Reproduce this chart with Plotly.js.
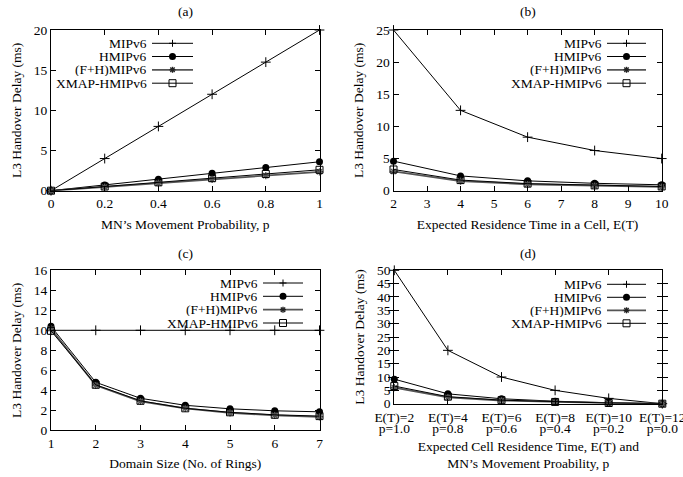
<!DOCTYPE html>
<html>
<head>
<meta charset="utf-8">
<script src="https://cdn.plot.ly/plotly-3.0.1.min.js"></script>
<style>html,body{margin:0;padding:0;background:#fff;}#chart{width:683px;height:477px;}</style>
</head>
<body>
<div id="chart"></div>
<script>
// ---------- DATA ----------
const seriesNames = ['MIPv6', 'HMIPv6', '(F+H)MIPv6', 'XMAP-HMIPv6'];

// (a) MN's movement probability
const aX = [0, 0.2, 0.4, 0.6, 0.8, 1];
const aMIP = [0, 4, 8, 12, 16, 20];
const aHMIP = [0, 0.72, 1.44, 2.16, 2.88, 3.6];
const aFH = [0, 0.47, 0.94, 1.41, 1.88, 2.35];
const aXMAP = [0, 0.52, 1.04, 1.56, 2.08, 2.6];

// (b) Expected residence time
const bX = [2, 4, 6, 8, 10];
const bMIP = [25, 12.5, 8.33, 6.25, 5];
const bHMIP = [4.6, 2.3, 1.53, 1.15, 0.92];
const bFH = [3.0, 1.5, 1.0, 0.75, 0.6];
const bXMAP = [3.3, 1.65, 1.1, 0.83, 0.66];

// (c) Domain size
const cX = [1, 2, 3, 4, 5, 6, 7];
const cMIP = [10, 10, 10, 10, 10, 10, 10];
const cHMIP = [10.4, 4.8, 3.2, 2.5, 2.15, 1.95, 1.85];
const cFH = [10.15, 4.5, 2.9, 2.2, 1.75, 1.5, 1.35];
const cXMAP = [9.95, 4.55, 2.95, 2.2, 1.8, 1.55, 1.42];

// (d) E(T) and p
const dET = ['E(T)=2', 'E(T)=4', 'E(T)=6', 'E(T)=8', 'E(T)=10', 'E(T)=12'];
const dP = ['p=1.0', 'p=0.8', 'p=0.6', 'p=0.4', 'p=0.2', 'p=0.0'];
const dMIP = [50, 20, 10, 5, 2, 0];
const dHMIP = [9.2, 3.7, 1.85, 0.92, 0.37, 0];
const dFH = [6.0, 2.4, 1.2, 0.6, 0.24, 0];
const dXMAP = [6.6, 2.64, 1.32, 0.66, 0.26, 0];

// ---------- STYLES ----------
const FONT = 'Liberation Serif';
const FS = 13.5;
const W = 683, H = 477;
const styles = [
  {line: {color: '#000', width: 1}, marker: {symbol: 'cross-thin-open', size: 7, line: {color: '#000', width: 1}}},
  {line: {color: '#000', width: 1}, marker: {symbol: 'circle', size: 7, color: '#000'}},
  {line: {color: '#555', width: 1.8}, marker: {symbol: 'asterisk-open', size: 6, line: {color: '#222', width: 1.4}}},
  {line: {color: '#000', width: 1}, marker: {symbol: 'square-open', size: 7, color: '#000', line: {color: '#000', width: 1}}}
];

const panels = [
  {xa: 'x', ya: 'y', x: aX, ys: [aMIP, aHMIP, aFH, aXMAP]},
  {xa: 'x2', ya: 'y2', x: bX, ys: [bMIP, bHMIP, bFH, bXMAP]},
  {xa: 'x3', ya: 'y3', x: cX, ys: [cMIP, cHMIP, cFH, cXMAP]},
  {xa: 'x4', ya: 'y4', x: dET, ys: [dMIP, dHMIP, dFH, dXMAP]}
];

const traces = [];
panels.forEach(p => {
  p.ys.forEach((y, i) => {
    traces.push({
      type: 'scatter', mode: 'lines+markers', x: p.x, y: y, name: seriesNames[i],
      xaxis: p.xa, yaxis: p.ya, line: styles[i].line, marker: styles[i].marker,
      showlegend: false, cliponaxis: false
    });
  });
});
// carrier for the second row of (d) tick labels (p values)
traces.push({type: 'scatter', mode: 'none', x: dP, y: dMIP, xaxis: 'x5', yaxis: 'y4', showlegend: false, hoverinfo: 'skip'});

function axisBase() {
  return {
    showline: true, linecolor: '#000', linewidth: 1, mirror: 'allticks',
    ticks: 'inside', ticklen: 5, tickcolor: '#000', tickwidth: 1,
    showgrid: false, zeroline: false, tickfont: {family: FONT, size: FS, color: '#000'},
    fixedrange: true
  };
}
const px = v => v / W;
const py = v => 1 - v / H;
const tfont = {family: FONT, size: FS, color: '#000'};

const layout = {
  width: W, height: H, margin: {l: 0, r: 0, t: 0, b: 0},
  paper_bgcolor: '#fff', plot_bgcolor: '#fff', showlegend: false,
  font: {family: FONT, size: FS, color: '#000'},
  xaxis: Object.assign(axisBase(), {domain: [px(51), px(319.5)], anchor: 'y', range: [0, 1], dtick: 0.2,
    title: {text: 'MN\u2019s Movement Probability, p', font: tfont, standoff: 9}}),
  yaxis: Object.assign(axisBase(), {domain: [py(190.7), py(30)], anchor: 'x', range: [0, 20], dtick: 5,
    title: {text: 'L3 Handover Delay (ms)', font: tfont, standoff: 9}}),
  xaxis2: Object.assign(axisBase(), {domain: [px(393.5), px(661.7)], anchor: 'y2', range: [2, 10], dtick: 1,
    title: {text: 'Expected Residence Time in a Cell, E(T)', font: tfont, standoff: 9}}),
  yaxis2: Object.assign(axisBase(), {domain: [py(190.7), py(30)], anchor: 'x2', range: [0, 25], dtick: 5,
    title: {text: 'L3 Handover Delay (ms)', font: tfont, standoff: 9}}),
  xaxis3: Object.assign(axisBase(), {domain: [px(51), px(319.5)], anchor: 'y3', range: [1, 7], dtick: 1,
    title: {text: 'Domain Size (No. of Rings)', font: tfont, standoff: 9}}),
  yaxis3: Object.assign(axisBase(), {domain: [py(430.3), py(270.3)], anchor: 'x3', range: [0, 16], dtick: 2,
    title: {text: 'L3 Handover Delay (ms)', font: tfont, standoff: 9}}),
  xaxis4: Object.assign(axisBase(), {domain: [px(394.3), px(662.3)], anchor: 'y4', type: 'category', range: [0, 5],
    ticklabelstandoff: 1,
    title: {text: 'Expected Cell Residence Time, E(T) and<br>MN\u2019s Movement Proability, p', font: tfont, standoff: 17}}),
  xaxis5: {domain: [px(394.3), px(662.3)], anchor: 'y4', overlaying: 'x4', side: 'bottom', type: 'category',
    range: [0, 5], showline: false, ticks: '', showgrid: false,
    zeroline: false, ticklabelstandoff: 15, tickfont: {family: FONT, size: FS, color: '#000'}, fixedrange: true},
  yaxis4: Object.assign(axisBase(), {domain: [py(403.7), py(270.3)], anchor: 'x4', range: [0, 50], dtick: 5,
    title: {text: 'L3 Handover Delay (ms)', font: tfont, standoff: 9}}),
  annotations: [],
  shapes: []
};

// panel titles
[['(a)', 185, 12], ['(b)', 528, 12], ['(c)', 185, 253], ['(d)', 528, 253]].forEach(t => {
  layout.annotations.push({text: t[0], xref: 'paper', yref: 'paper', x: px(t[1]), y: py(t[2]),
    xanchor: 'center', yanchor: 'middle', showarrow: false, font: tfont});
});

// gnuplot-style keys: text right-aligned, sample line to the right
const keys = [
  {textRight: 148, s0: 152, s1: 193, rows: [43.3, 56.5, 69.8, 83.2]},
  {textRight: 603, s0: 607, s1: 646, rows: [43.3, 56.5, 69.8, 83.2]},
  {textRight: 259, s0: 263, s1: 303, rows: [283, 296.3, 309.7, 323]},
  {textRight: 603, s0: 607, s1: 646, rows: [284.3, 297.3, 310.3, 323.3]}
];
function L(x0, y0, x1, y1, color, width) {
  layout.shapes.push({type: 'line', xref: 'paper', yref: 'paper', x0: px(x0), y0: py(y0), x1: px(x1), y1: py(y1),
    line: {color: color, width: width}});
}
keys.forEach(k => {
  k.rows.forEach((y, i) => {
    layout.annotations.push({text: seriesNames[i], xref: 'paper', yref: 'paper', x: px(k.textRight), y: py(y),
      xanchor: 'right', yanchor: 'middle', showarrow: false, font: tfont, height: 13, borderpad: 0, valign: 'middle'});
    L(k.s0, y, k.s1, y, styles[i].line.color, styles[i].line.width);
    const cx = (k.s0 + k.s1) / 2, r = 3.5;
    if (i === 0) { L(cx - 3.5, y, cx + 3.5, y, '#000', 1); L(cx, y - 3.5, cx, y + 3.5, '#000', 1); }
    if (i === 1) layout.shapes.push({type: 'circle', xref: 'paper', yref: 'paper', x0: px(cx - r), x1: px(cx + r),
      y0: py(y - r), y1: py(y + r), fillcolor: '#000', line: {color: '#000', width: 0}});
    if (i === 2) { L(cx - 3, y, cx + 3, y, '#222', 1.4); L(cx, y - 3, cx, y + 3, '#222', 1.4);
      L(cx - 2.2, y - 2.2, cx + 2.2, y + 2.2, '#222', 1.4); L(cx - 2.2, y + 2.2, cx + 2.2, y - 2.2, '#222', 1.4); }
    if (i === 3) layout.shapes.push({type: 'rect', xref: 'paper', yref: 'paper', x0: px(cx - r), x1: px(cx + r),
      y0: py(y - r), y1: py(y + r), fillcolor: 'rgba(0,0,0,0)', line: {color: '#000', width: 1}});
  });
});

Plotly.newPlot('chart', traces, layout, {staticPlot: true, displayModeBar: false});
</script>
</body>
</html>
